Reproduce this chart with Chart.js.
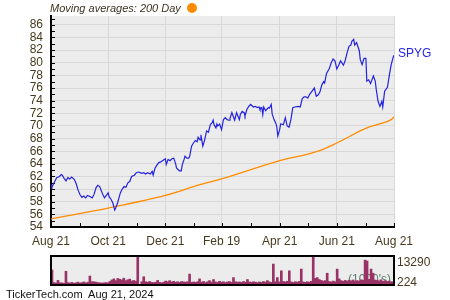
<!DOCTYPE html>
<html>
<head>
<meta charset="utf-8">
<script src="https://cdn.jsdelivr.net/npm/chart.js@4.4.1/dist/chart.umd.min.js"></script>
<style>
  html, body { margin: 0; padding: 0; background: #fff; }
  #wrap { position: relative; width: 450px; height: 300px; overflow: hidden; font-family: "Liberation Sans", Arial, sans-serif; }
  #priceChart { position: absolute; left: 0; top: 0; }
  #volChart { position: absolute; left: 0; top: 250px; }
  #title { position: absolute; left: 50px; top: 1px; font-size: 11px; font-style: italic; color: #3a3322; line-height: 14px; white-space: nowrap; }
  #title .dot { display: inline-block; width: 10px; height: 10px; border-radius: 50%; background: #ff8c00; margin-left: 6px; vertical-align: -1px; }
  #footer { position: absolute; left: 6px; top: 287px; font-size: 11px; color: #111; white-space: pre; line-height: 14px; }
</style>
</head>
<body>
<div id="wrap">
  <canvas id="priceChart" width="450" height="252"></canvas>
  <canvas id="volChart" width="450" height="40"></canvas>
  <div id="title">Moving averages: 200 Day<span class="dot"></span></div>
  <div id="footer">TickerTech.com  Aug 21, 2024</div>
</div>
<script>
// x axis: calendar days since Aug 21, 2023
const dateLabels = ['Aug 21', 'Oct 21', 'Dec 21', 'Feb 19', 'Apr 21', 'Jun 21', 'Aug 21'];
const labelDays = [0, 61, 122, 182, 244, 305, 366];
const minorDays = [31, 92, 153, 213, 274, 336];
const priceLabels = [54, 56, 58, 60, 62, 64, 66, 68, 70, 72, 74, 76, 78, 80, 82, 84, 86];
const priceMinor = [55, 57, 59, 61, 63, 65, 67, 69, 71, 73, 75, 77, 79, 81, 83, 85, 87];

const spygDays = [
  0, 1, 2, 4, 6, 9, 11, 12, 14, 16, 18, 20,
  22, 25, 27, 29, 31, 33, 35, 37, 39, 42, 44, 46,
  48, 50, 52, 54, 57, 59, 61, 62, 64, 66, 68, 69,
  71, 74, 76, 78, 80, 82, 84, 86, 89, 91, 93, 95,
  97, 99, 101, 103, 106, 108, 109, 111, 113, 115, 117, 119,
  122, 123, 125, 127, 129, 131, 133, 134, 137, 139, 140, 142,
  143, 145, 147, 148, 150, 152, 154, 156, 157, 159, 160, 162,
  164, 166, 168, 170, 172, 173, 174, 176, 177, 178, 180, 182,
  184, 186, 188, 190, 191, 193, 195, 196, 198, 201, 202, 204,
  206, 207, 209, 211, 213, 216, 218, 220, 222, 223, 225, 226,
  227, 229, 232, 233, 235, 236, 238, 240, 241, 242, 244, 245,
  248, 250, 252, 254, 256, 258, 260, 264, 266, 268, 270, 272,
  274, 276, 278, 281, 283, 285, 287, 289, 291, 292, 294, 297,
  299, 301, 303, 305, 307, 309, 312, 314, 316, 318, 320, 321,
  323, 324, 326, 329, 330, 332, 334, 336, 337, 339, 341, 344,
  346, 347, 349, 351, 353, 354, 356, 359, 361, 363, 365, 366
];
const spygClose = [
  60.7, 60.3, 60.6, 61.2, 61.8, 62.0, 62.3, 62.2, 61.7, 61.3, 61.8, 61.6,
  61.9, 61.5, 60.8, 59.8, 59.1, 58.7, 58.9, 58.6, 59.0, 58.8, 58.6, 59.2,
  60.2, 60.6, 60.4, 59.6, 58.6, 59.0, 59.4, 58.8, 58.4, 57.8, 56.7, 57.0,
  57.8, 59.4, 60.0, 60.4, 60.3, 61.0, 61.2, 62.0, 62.2, 62.6, 62.7, 62.6,
  62.5, 62.6, 62.4, 62.6, 62.4, 62.8, 62.2, 63.3, 63.8, 64.2, 64.3, 64.5,
  64.8, 63.9, 64.7, 64.5, 64.8, 64.9, 64.0, 63.3, 62.9, 62.9, 63.8, 64.7,
  65.2, 64.9, 64.9, 65.2, 66.8, 67.3, 67.7, 67.5, 68.2, 67.8, 68.6, 66.8,
  67.8, 69.2, 69.0, 70.2, 70.5, 70.9, 70.2, 69.7, 70.3, 70.0, 70.3, 69.4,
  71.0, 71.3, 71.0, 70.9, 71.2, 72.1, 71.3, 70.9, 72.1, 71.0, 71.8, 72.3,
  72.1, 71.6, 72.6, 73.1, 73.4, 73.0, 73.1, 72.9, 73.0, 72.6, 72.9, 71.8,
  73.0, 72.4, 72.9, 72.8, 73.4, 71.9, 71.0, 70.4, 69.8, 68.4, 69.4, 70.3,
  70.2, 71.3, 70.0, 69.8, 71.0, 72.9, 73.0, 73.1, 73.0, 74.3, 74.6, 74.6,
  74.4, 75.0, 75.4, 76.0, 74.7, 74.9, 75.4, 76.5, 77.0, 76.8, 78.3, 79.1,
  80.0, 80.6, 80.3, 79.0, 79.6, 80.3, 79.6, 80.4, 81.6, 82.6, 82.8, 83.4,
  83.7, 82.8, 83.2, 81.9, 80.5, 79.7, 80.7, 80.7, 77.1, 77.3, 76.7, 77.9,
  77.1, 75.8, 73.9, 73.1, 73.9, 73.0, 75.5, 76.1, 78.0, 79.7, 80.8, 81.2
];

const maDays = [0, 61, 122, 159, 182, 244, 285, 305, 337, 348, 363, 366];
const ma200 = [55.3, 57.0, 59.0, 60.7, 61.6, 64.5, 66.0, 67.3, 69.7, 70.2, 71.0, 71.4];

// daily-ish volume, in 1000's
const volume = [
  6900, 1100, 900, 2100, 1000, 1000, 800, 6300, 1100, 900, 1200, 800,
  1000, 1300, 900, 1100, 1400, 1000, 1300, 4100, 1500, 1500, 1300, 1100,
  1000, 900, 1000, 1100, 1000, 1600, 2300, 2800, 2000, 3000, 2600, 2300,
  3100, 2000, 2400, 2700, 1800, 2100, 1700, 13100, 224, 1500, 3800, 1500,
  1300, 1600, 1200, 1100, 1300, 2100, 1200, 1000, 1300, 1800, 1500, 2000,
  1400, 1700, 1300, 1500, 1200, 1600, 1400, 1300, 1500, 5000, 1200, 1400,
  1200, 1500, 2800, 1300, 1600, 1100, 1500, 2000, 1300, 2500, 1400, 1200,
  1700, 1300, 1500, 1100, 1400, 1600, 1200, 3400, 1500, 1300, 1400, 1200,
  1600, 1300, 2500, 1400, 1200, 1500, 1300, 1100, 1400, 1200, 1600, 1300,
  2000, 1400, 1200, 9600, 1500, 3400, 1400, 6500, 1600, 1400, 1700, 6500,
  1400, 1200, 1500, 1300, 1600, 7300, 1400, 1200, 1500, 1300, 1700, 13290,
  3000, 3400, 2500, 2100, 1800, 2000, 5400, 1600, 1400, 1800, 1500, 7300,
  2800, 2000, 1700, 2100, 1800, 2200, 1900, 2300, 1700, 2000, 1800, 2400,
  2200, 11400, 11000, 2600, 7300, 5400, 2300, 2100, 1900, 2400, 1700, 2000,
  1600, 1800, 1500, 1400
];

const FONT = '"Liberation Sans", Arial, sans-serif';
const labelColor = '#463a1e';
Chart.defaults.font.family = FONT;

const plotBg = {
  id: 'plotBg',
  beforeDraw(chart) {
    const { ctx, chartArea: a } = chart;
    ctx.save();
    ctx.fillStyle = '#ececec';
    ctx.fillRect(a.left, a.top, a.right - a.left, a.bottom - a.top);
    ctx.restore();
  }
};

// small tick marks pointing into the plot
const innerTicks = {
  id: 'innerTicks',
  beforeDatasetsDraw(chart) {
    const { ctx, chartArea: a, scales: { x, y } } = chart;
    ctx.save();
    ctx.strokeStyle = '#000';
    ctx.lineWidth = 1;
    ctx.beginPath();
    y.ticks.forEach(t => {
      const py = Math.round(y.getPixelForValue(t.value)) + 0.5;
      ctx.moveTo(a.left, py);
      ctx.lineTo(a.left + 4, py);
    });
    x.ticks.forEach(t => {
      const px = Math.round(x.getPixelForValue(t.value)) + 0.5;
      ctx.moveTo(px, a.bottom);
      ctx.lineTo(px, a.bottom - 4);
    });
    ctx.stroke();
    ctx.restore();
  }
};

const seriesTag = {
  id: 'seriesTag',
  afterDatasetsDraw(chart) {
    const ds = chart.data.datasets[0];
    const pts = chart.getDatasetMeta(0).data;
    const last = pts[pts.length - 1];
    const ctx = chart.ctx;
    ctx.save();
    ctx.font = '12px ' + FONT;
    ctx.fillStyle = ds.borderColor;
    ctx.textAlign = 'left';
    ctx.textBaseline = 'middle';
    ctx.fillText(ds.label, last.x + 4, last.y - 1);
    ctx.restore();
  }
};

new Chart(document.getElementById('priceChart'), {
  type: 'line',
  data: {
    datasets: [
      {
        label: 'SPYG',
        data: spygDays.map((d, i) => ({ x: d, y: spygClose[i] })),
        borderColor: '#2323e0',
        borderWidth: 1.2,
        pointRadius: 0,
        tension: 0
      },
      {
        label: '200 Day',
        data: maDays.map((d, i) => ({ x: d, y: ma200[i] })),
        borderColor: '#ff8c00',
        borderWidth: 1.3,
        pointRadius: 0,
        cubicInterpolationMode: 'monotone'
      }
    ]
  },
  options: {
    responsive: false,
    animation: false,
    events: [],
    layout: { padding: { top: 16, right: 56, left: 0, bottom: 0 } },
    plugins: { legend: { display: false }, tooltip: { enabled: false } },
    scales: {
      x: {
        type: 'linear',
        min: 0,
        max: 366,
        afterBuildTicks: s => {
          s.ticks = labelDays.concat(minorDays).sort((a, b) => a - b).map(v => ({ value: v }));
        },
        afterFit: s => { s.height = 25; },
        ticks: {
          autoSkip: false,
          maxRotation: 0,
          padding: 7,
          color: labelColor,
          font: { size: 12 },
          callback: v => {
            const i = labelDays.indexOf(v);
            return i >= 0 ? dateLabels[i] : '';
          }
        },
        grid: {
          drawTicks: false,
          lineWidth: 1,
          color: c => (c.tick && labelDays.includes(c.tick.value)) ? '#d8d8d8' : 'rgba(0,0,0,0)'
        },
        border: { color: '#000', width: 2 }
      },
      y: {
        min: 54,
        max: 87.4,
        afterBuildTicks: s => {
          s.ticks = priceLabels.concat(priceMinor).sort((a, b) => a - b).map(v => ({ value: v }));
        },
        afterFit: s => { s.width = 51; },
        ticks: {
          autoSkip: false,
          padding: 8,
          color: labelColor,
          font: { size: 12 },
          callback: v => priceLabels.includes(v) ? String(v) : ''
        },
        grid: {
          drawTicks: false,
          lineWidth: 1,
          color: c => (c.tick && priceLabels.includes(c.tick.value)) ? '#d8d8d8' : 'rgba(0,0,0,0)'
        },
        border: { color: '#000', width: 2 }
      }
    }
  },
  plugins: [plotBg, innerTicks, seriesTag]
});

const volDecor = {
  id: 'volDecor',
  beforeDatasetsDraw(chart) {
    const { ctx, chartArea: a } = chart;
    ctx.save();
    ctx.font = '12px ' + FONT;
    ctx.fillStyle = '#5b7f70';
    ctx.textAlign = 'right';
    ctx.textBaseline = 'middle';
    ctx.fillText("(1000's)", a.right - 3, a.bottom - 5);
    ctx.restore();
  },
  afterDraw(chart) {
    const { ctx, chartArea: a } = chart;
    const vals = chart.data.datasets[0].data;
    ctx.save();
    ctx.strokeStyle = '#000';
    ctx.lineWidth = 2;
    ctx.strokeRect(a.left, a.top, a.right - a.left, a.bottom - a.top);
    ctx.font = '12px ' + FONT;
    ctx.fillStyle = labelColor;
    ctx.textAlign = 'left';
    ctx.textBaseline = 'middle';
    ctx.fillText(String(Math.max(...vals)), a.right + 3, a.top + 7);
    ctx.fillText(String(Math.min(...vals)), a.right + 3, a.bottom - 2);
    ctx.restore();
  }
};

new Chart(document.getElementById('volChart'), {
  type: 'bar',
  data: {
    labels: volume.map((_, i) => i),
    datasets: [{
      label: 'Volume',
      data: volume,
      backgroundColor: '#993366',
      borderWidth: 0,
      barPercentage: 1,
      categoryPercentage: 1
    }]
  },
  options: {
    responsive: false,
    animation: false,
    events: [],
    layout: { padding: { left: 51, right: 56, top: 6, bottom: 5 } },
    plugins: { legend: { display: false }, tooltip: { enabled: false } },
    scales: {
      x: { display: false },
      y: { display: false, min: 0, max: Math.max(...volume) }
    }
  },
  plugins: [plotBg, volDecor]
});
</script>
</body>
</html>
